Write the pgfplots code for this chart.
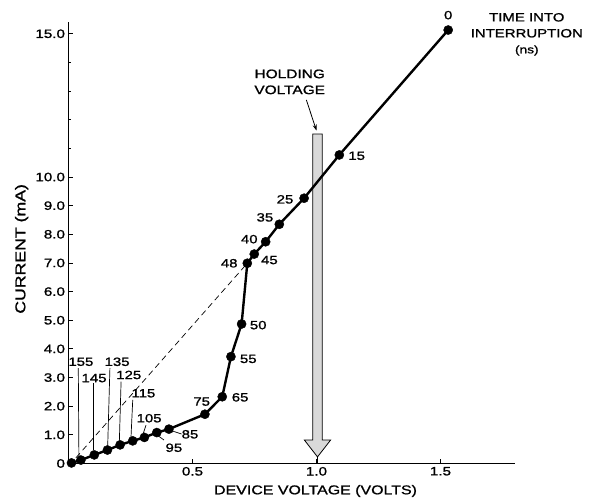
\documentclass[border=0pt]{standalone}
\usepackage{fontspec}
\setmainfont{Liberation Sans}[FakeStretch=1.25, FakeBold=1.2]
\usepackage{pgfplots}
\usepackage{pgfplotstable}
\usetikzlibrary{arrows.meta}
\pgfplotsset{compat=1.18}
\pgfplotstableread{
x y t
1.531 15.13 0
1.092 10.77 15
0.950 9.26 25
0.850 8.35 35
0.795 7.74 40
0.749 7.31 45
0.721 6.99 48
0.698 4.87 50
0.655 3.73 55
0.620 2.33 65
0.550 1.72 75
0.405 1.20 85
0.356 1.08 95
0.306 0.91 105
0.259 0.79 115
0.208 0.65 125
0.157 0.47 135
0.104 0.30 145
0.050 0.12 155
0.012 0.02 165
}\curve
\begin{document}
\begin{tikzpicture}
\begin{axis}[
  scale only axis,
  width=446.4bp, height=441.2bp,
  xmin=0, xmax=1.8, ymin=0, ymax=15.4,
  axis x line*=bottom, axis y line*=left,
  axis line style={line width=1pt, -},
  xtick={0.5,1.0,1.5}, xticklabels={0.5,1.0,1.5},
  ytick={0,1,2,3,4,5,6,7,8,9,10,15},
  yticklabels={0,1.0,2.0,3.0,4.0,5.0,6.0,7.0,8.0,9.0,10.0,15.0},
  minor ytick={11,12,13,14},
  tick align=inside,
  major tick length=5bp, minor tick length=3bp,
  tick style={line width=0.9pt, black},
  /pgf/number format/assume math mode=true,
  ticklabel style={font=\fontsize{12.2}{14}\selectfont},
  xlabel={DEVICE VOLTAGE (VOLTS)},
  ylabel={CURRENT (mA)},
  xlabel style={font=\fontsize{12.8}{16}\selectfont, at={(axis cs:0.996,-0.96)}, anchor=center},
  ylabel style={font=\fontsize{14.2}{16}\selectfont, at={(axis cs:-0.189,7.49)}, anchor=center, rotate=0},
  clip=false,
]
% holding voltage arrow
\draw[line width=0.8pt, fill=gray!30]
  (axis cs:0.985,11.5) -- (axis cs:1.023,11.5) -- (axis cs:1.023,0.82)
  -- (axis cs:1.057,0.82) -- (axis cs:1.004,0.23) -- (axis cs:0.951,0.82)
  -- (axis cs:0.985,0.82) -- cycle;
\draw[line width=0.8pt] (axis cs:1.004,0.23) -- (axis cs:1.004,0);
\draw[line width=0.8pt, -{Stealth[length=6bp,width=4bp]}] (axis cs:0.959,12.69) -- (axis cs:1.0,11.62);
\node[align=center, font=\fontsize{12.4}{16}\selectfont] at (axis cs:0.892,13.32) {HOLDING\\VOLTAGE};
\node[align=center, font=\fontsize{12}{16}\selectfont] at (axis cs:1.848,14.98) {TIME INTO\\INTERRUPTION\\{\fontsize{11}{12}\selectfont(ns)}};
% dashed line
\addplot[black, line width=0.7pt, dash pattern=on 6bp off 4bp] coordinates {(0.03,0.2) (0.721,6.99)};
% leader lines
\addplot[black, line width=0.7pt] coordinates {(0.0395,3.33) (0.042,0.24)};
\addplot[black, line width=0.7pt] coordinates {(0.100,2.81) (0.100,0.47)};
\addplot[black, line width=0.7pt] coordinates {(0.167,3.33) (0.158,0.59)};
\addplot[black, line width=0.7pt] coordinates {(0.212,2.855) (0.205,0.76)};
\addplot[black, line width=0.7pt] coordinates {(0.259,2.22) (0.252,0.91)};
\addplot[black, line width=0.7pt] coordinates {(0.3125,1.34) (0.3016,1.05)};
\addplot[black, line width=0.7pt] coordinates {(0.356,1.0) (0.385,0.82)};
\addplot[black, line width=0.7pt] coordinates {(0.406,1.17) (0.456,1.03)};
% main curve
\addplot[black, line width=2.4pt, mark=*, mark size=4.6pt, mark options={solid, fill=black, line width=0.4pt}] table[x=x, y=y] {\curve};
% point labels
\begin{scope}[every node/.style={font=\fontsize{12}{14}\selectfont}]
\node at (axis cs:1.531,15.65) {0};
\node at (axis cs:1.162,10.74) {15};
\node at (axis cs:0.873,9.22) {25};
\node at (axis cs:0.792,8.59) {35};
\node at (axis cs:0.729,7.83) {40};
\node at (axis cs:0.810,7.10) {45};
\node at (axis cs:0.648,6.99) {48};
\node at (axis cs:0.765,4.83) {50};
\node at (axis cs:0.725,3.65) {55};
\node at (axis cs:0.692,2.31) {65};
\node at (axis cs:0.537,2.16) {75};
\node at (axis cs:0.490,1.02) {85};
\node at (axis cs:0.425,0.55) {95};
\node at (axis cs:0.325,1.58) {105};
\node at (axis cs:0.302,2.45) {115};
\node at (axis cs:0.243,3.09) {125};
\node at (axis cs:0.196,3.55) {135};
\node at (axis cs:0.103,2.98) {145};
\node at (axis cs:0.050,3.55) {155};
\end{scope}
\end{axis}
\pgfresetboundingbox
\path[use as bounding box] ([shift={(-68.5bp,-40.5bp)}]current axis.south west) rectangle ++(598bp,504bp);
\end{tikzpicture}
\end{document}
